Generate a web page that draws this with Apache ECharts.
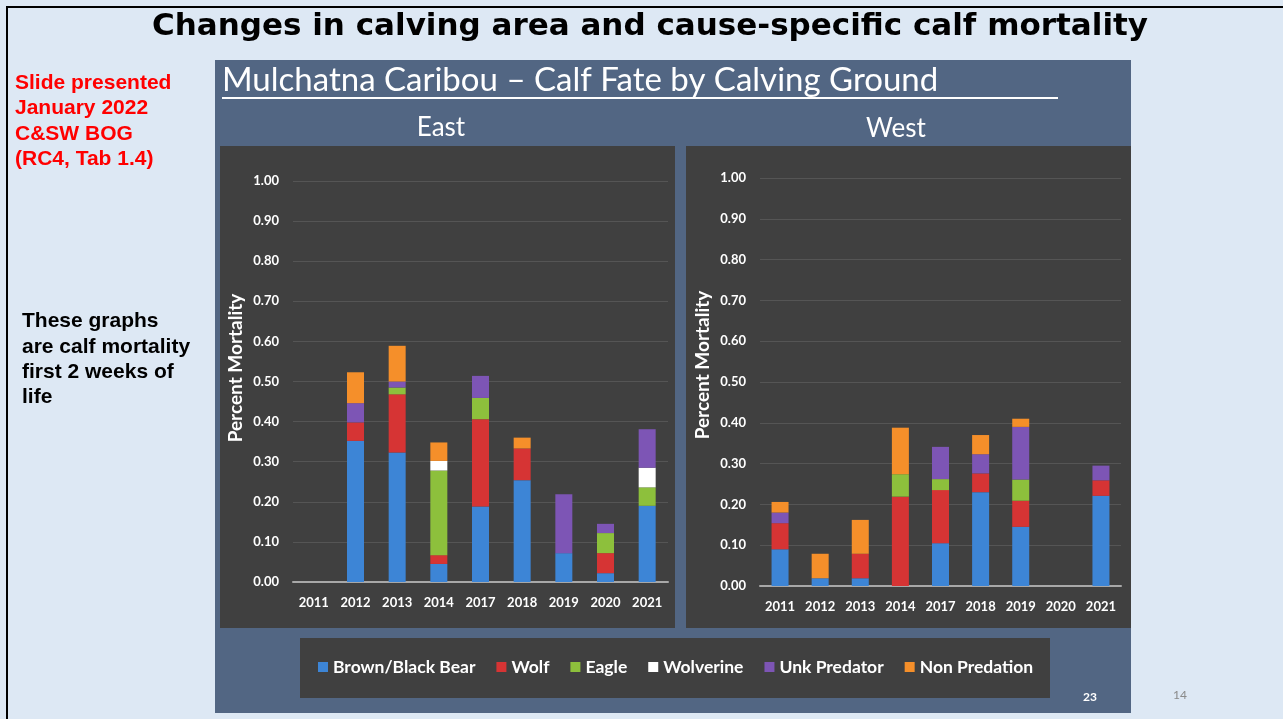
<!DOCTYPE html>
<html>
<head>
<meta charset="utf-8">
<script src="https://cdn.jsdelivr.net/npm/echarts@6/dist/echarts.min.js"></script>
<style>
  html, body { margin: 0; padding: 0; background: #dde8f4; }
  #chart { width: 1283px; height: 719px; }
</style>
</head>
<body>
<div id="chart"></div>
<script>
// categories
const years = ['2011', '2012', '2013', '2014', '2017', '2018', '2019', '2020', '2021']
const causes = ['Brown/Black Bear', 'Wolf', 'Eagle', 'Wolverine', 'Unk Predator', 'Non Predation']
const yTicks = [0, 0.1, 0.2, 0.3, 0.4, 0.5, 0.6, 0.7, 0.8, 0.9, 1.0]

// East calving ground
const eastBear = [0, 0.352, 0.323, 0.045, 0.188, 0.254, 0.072, 0.022, 0.190]
const eastWolf = [0, 0.046, 0.145, 0.022, 0.218, 0.079, 0, 0.050, 0]
const eastEagle = [0, 0, 0.017, 0.211, 0.053, 0, 0, 0.050, 0.046]
const eastWolverine = [0, 0, 0, 0.024, 0, 0, 0, 0, 0.049]
const eastUnk = [0, 0.048, 0.015, 0, 0.055, 0, 0.147, 0.023, 0.096]
const eastNon = [0, 0.077, 0.089, 0.046, 0, 0.027, 0, 0, 0]

// West calving ground
const westBear = [0.090, 0.019, 0.019, 0, 0.105, 0.230, 0.145, 0, 0.221]
const westWolf = [0.064, 0, 0.060, 0.219, 0.130, 0.046, 0.064, 0, 0.038]
const westEagle = [0, 0, 0, 0.055, 0.027, 0, 0.052, 0, 0]
const westWolverine = [0, 0, 0, 0, 0, 0, 0, 0, 0]
const westUnk = [0.026, 0, 0, 0, 0.079, 0.047, 0.129, 0, 0.036]
const westNon = [0.026, 0.060, 0.083, 0.114, 0, 0.047, 0.020, 0, 0]

const colors = ['#3d85d6', '#d63434', '#8dc03c', '#ffffff', '#7d55b5', '#f58f2a']
const font = 'Lato, "Open Sans", sans-serif'

const chart = echarts.init(document.getElementById('chart'))

const eastData = [eastBear, eastWolf, eastEagle, eastWolverine, eastUnk, eastNon]
const westData = [westBear, westWolf, westEagle, westWolverine, westUnk, westNon]

function makeSeries(data, idx, stack) {
  return causes.map((name, i) => ({
    name: name,
    type: 'bar',
    stack: stack,
    xAxisIndex: idx,
    yAxisIndex: idx,
    barWidth: 17,
    itemStyle: { color: colors[i] },
    data: data[i]
  }))
}

function yAxis(gridIndex) {
  return {
    gridIndex: gridIndex,
    type: 'value',
    min: yTicks[0],
    max: yTicks[yTicks.length - 1],
    interval: 0.1,
    axisLine: { show: false },
    axisTick: { show: false },
    axisLabel: {
      color: '#ffffff', fontSize: 13, fontWeight: 'bold', fontFamily: font, margin: 14,
      formatter: v => v.toFixed(2)
    },
    splitLine: { lineStyle: { color: '#555555', width: 1 } }
  }
}

function xAxis(gridIndex) {
  return {
    gridIndex: gridIndex,
    type: 'category',
    data: years,
    axisLine: { lineStyle: { color: '#a8a8a8', width: 2 } },
    axisTick: { show: false },
    axisLabel: { color: '#ffffff', fontSize: 13, fontWeight: 'bold', fontFamily: font, margin: 14 }
  }
}

function axisName(x, y) {
  return {
    type: 'text', x: x, y: y, rotation: Math.PI / 2,
    style: { text: 'Percent Mortality', font: 'bold 19px ' + font, fill: '#ffffff',
      align: 'center', verticalAlign: 'middle' }
  }
}

const option = {
  backgroundColor: '#dde8f4',
  animation: false,
  graphic: [
    // slide border
    { type: 'rect', shape: { x: 7, y: 7, width: 1300, height: 720 },
      style: { fill: 'none', stroke: '#000', lineWidth: 2 } },
    { type: 'text', x: 650, y: 27,
      style: { text: 'Changes in calving area and cause-specific calf mortality',
        font: 'bold 31px "DejaVu Sans", sans-serif', fill: '#000', align: 'center', verticalAlign: 'middle' } },
    { type: 'text', left: 15, top: 70,
      style: { text: 'Slide presented\nJanuary 2022\nC&SW BOG\n(RC4, Tab 1.4)', lineHeight: 25.5,
        font: 'bold 21px "Liberation Sans", Arial, sans-serif', fill: '#ff0000' } },
    { type: 'text', left: 22, top: 309,
      style: { text: 'These graphs\nare calf mortality\nfirst 2 weeks of\nlife', lineHeight: 25.3,
        font: 'bold 21px "Liberation Sans", Arial, sans-serif', fill: '#000' } },
    // picture panel
    { type: 'rect', z: -10, shape: { x: 215, y: 60, width: 916, height: 653 }, style: { fill: '#526683' } },
    { type: 'rect', z: -9, shape: { x: 220, y: 146, width: 455, height: 482 }, style: { fill: '#404040' } },
    { type: 'rect', z: -9, shape: { x: 686, y: 146, width: 445, height: 482 }, style: { fill: '#404040' } },
    { type: 'rect', z: -9, shape: { x: 300, y: 638, width: 750, height: 60 }, style: { fill: '#404040' } },
    { type: 'text', x: 222, y: 80,
      style: { text: 'Mulchatna Caribou – Calf Fate by Calving Ground',
        font: '33px Lato, "Open Sans", sans-serif', fill: '#ffffff', verticalAlign: 'middle' } },
    { type: 'rect', shape: { x: 222, y: 97, width: 836, height: 2 }, style: { fill: '#ffffff' } },
    { type: 'text', x: 441, y: 128, style: { text: 'East', font: '26px ' + font, fill: '#ffffff', align: 'center', verticalAlign: 'middle' } },
    { type: 'text', x: 896, y: 129, style: { text: 'West', font: '26px ' + font, fill: '#ffffff', align: 'center', verticalAlign: 'middle' } },
    axisName(236, 368),
    axisName(703, 365),
    { type: 'text', x: 1090, y: 697, style: { text: '23', font: 'bold 12px ' + font, fill: '#ffffff', align: 'center', verticalAlign: 'middle' } },
    { type: 'text', x: 1180, y: 695, style: { text: '14', font: '12px ' + font, fill: '#8a8a8a', align: 'center', verticalAlign: 'middle' } }
  ],
  legend: {
    data: causes,
    top: 653,
    left: 313,
    itemWidth: 10,
    itemHeight: 10,
    itemGap: 21,
    icon: 'rect',
    textStyle: { color: '#ffffff', fontSize: 17.5, fontWeight: 'bold', fontFamily: font }
  },
  grid: [
    { left: 293, right: 615, top: 181, bottom: 137 },
    { left: 760, right: 162, top: 178, bottom: 133 }
  ],
  xAxis: [xAxis(0), xAxis(1)],
  yAxis: [yAxis(0), yAxis(1)],
  series: makeSeries(eastData, 0, 'east').concat(makeSeries(westData, 1, 'west'))
}

chart.setOption(option)
</script>
</body>
</html>
